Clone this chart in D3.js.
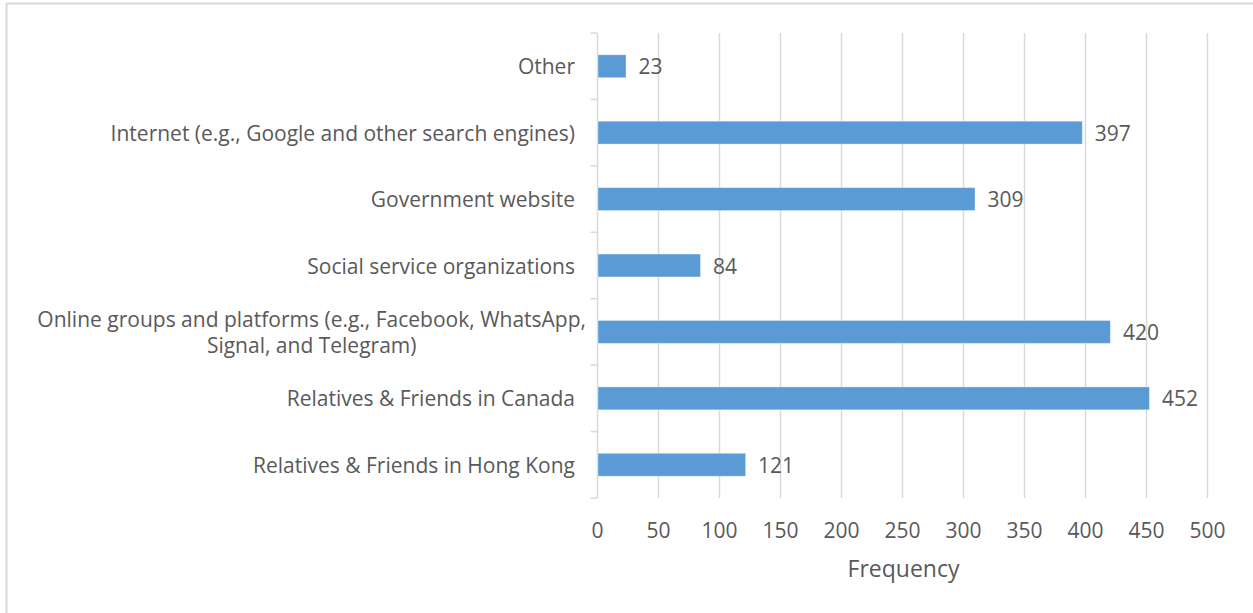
<!DOCTYPE html>
<html>
<head>
<meta charset="utf-8">
<script src="https://cdn.jsdelivr.net/npm/d3@7"></script>
<style>
  html, body { margin: 0; padding: 0; background: #fff; }
  svg { display: block; }
  text { font-family: "Open Sans", "Noto Sans", sans-serif; fill: #595959; }
</style>
</head>
<body>
<svg id="chart" width="1253" height="613"></svg>
<script>
// Sources of information, top to bottom
const categories = [
  "Other",
  "Internet (e.g., Google and other search engines)",
  "Government website",
  "Social service organizations",
  "Online groups and platforms (e.g., Facebook, WhatsApp,|Signal, and Telegram)",
  "Relatives & Friends in Canada",
  "Relatives & Friends in Hong Kong"
];
const frequencies = [23, 397, 309, 84, 420, 452, 121];
const xTicks = [0, 50, 100, 150, 200, 250, 300, 350, 400, 450, 500];
const xTitle = "Frequency";

const svg = d3.select("#chart");
const W = 1253, H = 613;
const plot = { left: 597.5, right: 1207.5, top: 33, bottom: 498 };
const FS = "21px";

// outer chart frame
svg.append("rect")
  .attr("x", 6.5).attr("y", 3.5)
  .attr("width", W + 10).attr("height", H + 10)
  .attr("fill", "none").attr("stroke", "#d9d9d9").attr("stroke-width", 2);

const x = d3.scaleLinear().domain([0, 500]).range([plot.left, plot.right]);
const y = d3.scaleBand().domain(categories).range([plot.top, plot.bottom]).paddingInner(0.655).paddingOuter(0.3275);
const yStep = d3.scaleBand().domain(categories).range([plot.top, plot.bottom]);

// vertical gridlines
svg.append("g").selectAll("line").data(xTicks.filter(d => d > 0)).join("line")
  .attr("x1", d => x(d)).attr("x2", d => x(d))
  .attr("y1", plot.top).attr("y2", plot.bottom)
  .attr("stroke", "#d9d9d9").attr("stroke-width", 1.5);

// x tick labels
svg.append("g").selectAll("text").data(xTicks).join("text")
  .attr("x", d => x(d)).attr("y", 530)
  .attr("text-anchor", "middle").attr("dominant-baseline", "central")
  .style("font-size", FS)
  .text(d => d);

svg.append("text")
  .attr("x", (plot.left + plot.right) / 2 + 1).attr("y", 568)
  .attr("text-anchor", "middle").attr("dominant-baseline", "central")
  .style("font-size", "23px")
  .text(xTitle);

// category axis line and tick marks
const axisG = svg.append("g");
axisG.append("line")
  .attr("x1", plot.left).attr("x2", plot.left)
  .attr("y1", plot.top).attr("y2", plot.bottom)
  .attr("stroke", "#d9d9d9").attr("stroke-width", 1.5);
const bounds = categories.map(c => yStep(c)).concat([plot.bottom]);
axisG.selectAll("line.tick").data(bounds).join("line")
  .attr("class", "tick")
  .attr("x1", plot.left - 7).attr("x2", plot.left)
  .attr("y1", d => d).attr("y2", d => d)
  .attr("stroke", "#d9d9d9").attr("stroke-width", 1.5);

// bars
svg.append("g").selectAll("rect").data(categories).join("rect")
  .attr("x", x(0) + 0.5)
  .attr("y", d => y(d))
  .attr("width", (d, i) => x(frequencies[i]) - x(0))
  .attr("height", y.bandwidth())
  .attr("fill", "#5b9bd5")
  .attr("stroke", "#ffffff").attr("stroke-opacity", 0.35).attr("stroke-width", 1);

// value labels
svg.append("g").selectAll("text").data(categories).join("text")
  .attr("x", (d, i) => x(frequencies[i]) + 13)
  .attr("y", d => y(d) + y.bandwidth() / 2)
  .attr("dominant-baseline", "central")
  .style("font-size", FS)
  .text((d, i) => frequencies[i]);

// category labels (wrapped labels are centred as a block)
const labelRight = 575;
categories.forEach(c => {
  const lines = c.split("|");
  const cy = yStep(c) + yStep.bandwidth() / 2;
  if (lines.length === 1) {
    svg.append("text")
      .attr("x", labelRight).attr("y", cy)
      .attr("text-anchor", "end").attr("dominant-baseline", "central")
      .style("font-size", FS)
      .text(c);
  } else {
    const lh = 26;
    const g = svg.append("g");
    const t0 = g.append("text").style("font-size", FS).text(lines[0]);
    const w = t0.node().getComputedTextLength();
    const cx = labelRight + 11 - w / 2;
    lines.forEach((ln, k) => {
      const t = k === 0 ? t0 : g.append("text").style("font-size", FS).text(ln);
      t.attr("x", cx).attr("y", cy + (k - (lines.length - 1) / 2) * lh)
        .attr("text-anchor", "middle").attr("dominant-baseline", "central");
    });
  }
});
</script>
</body>
</html>
